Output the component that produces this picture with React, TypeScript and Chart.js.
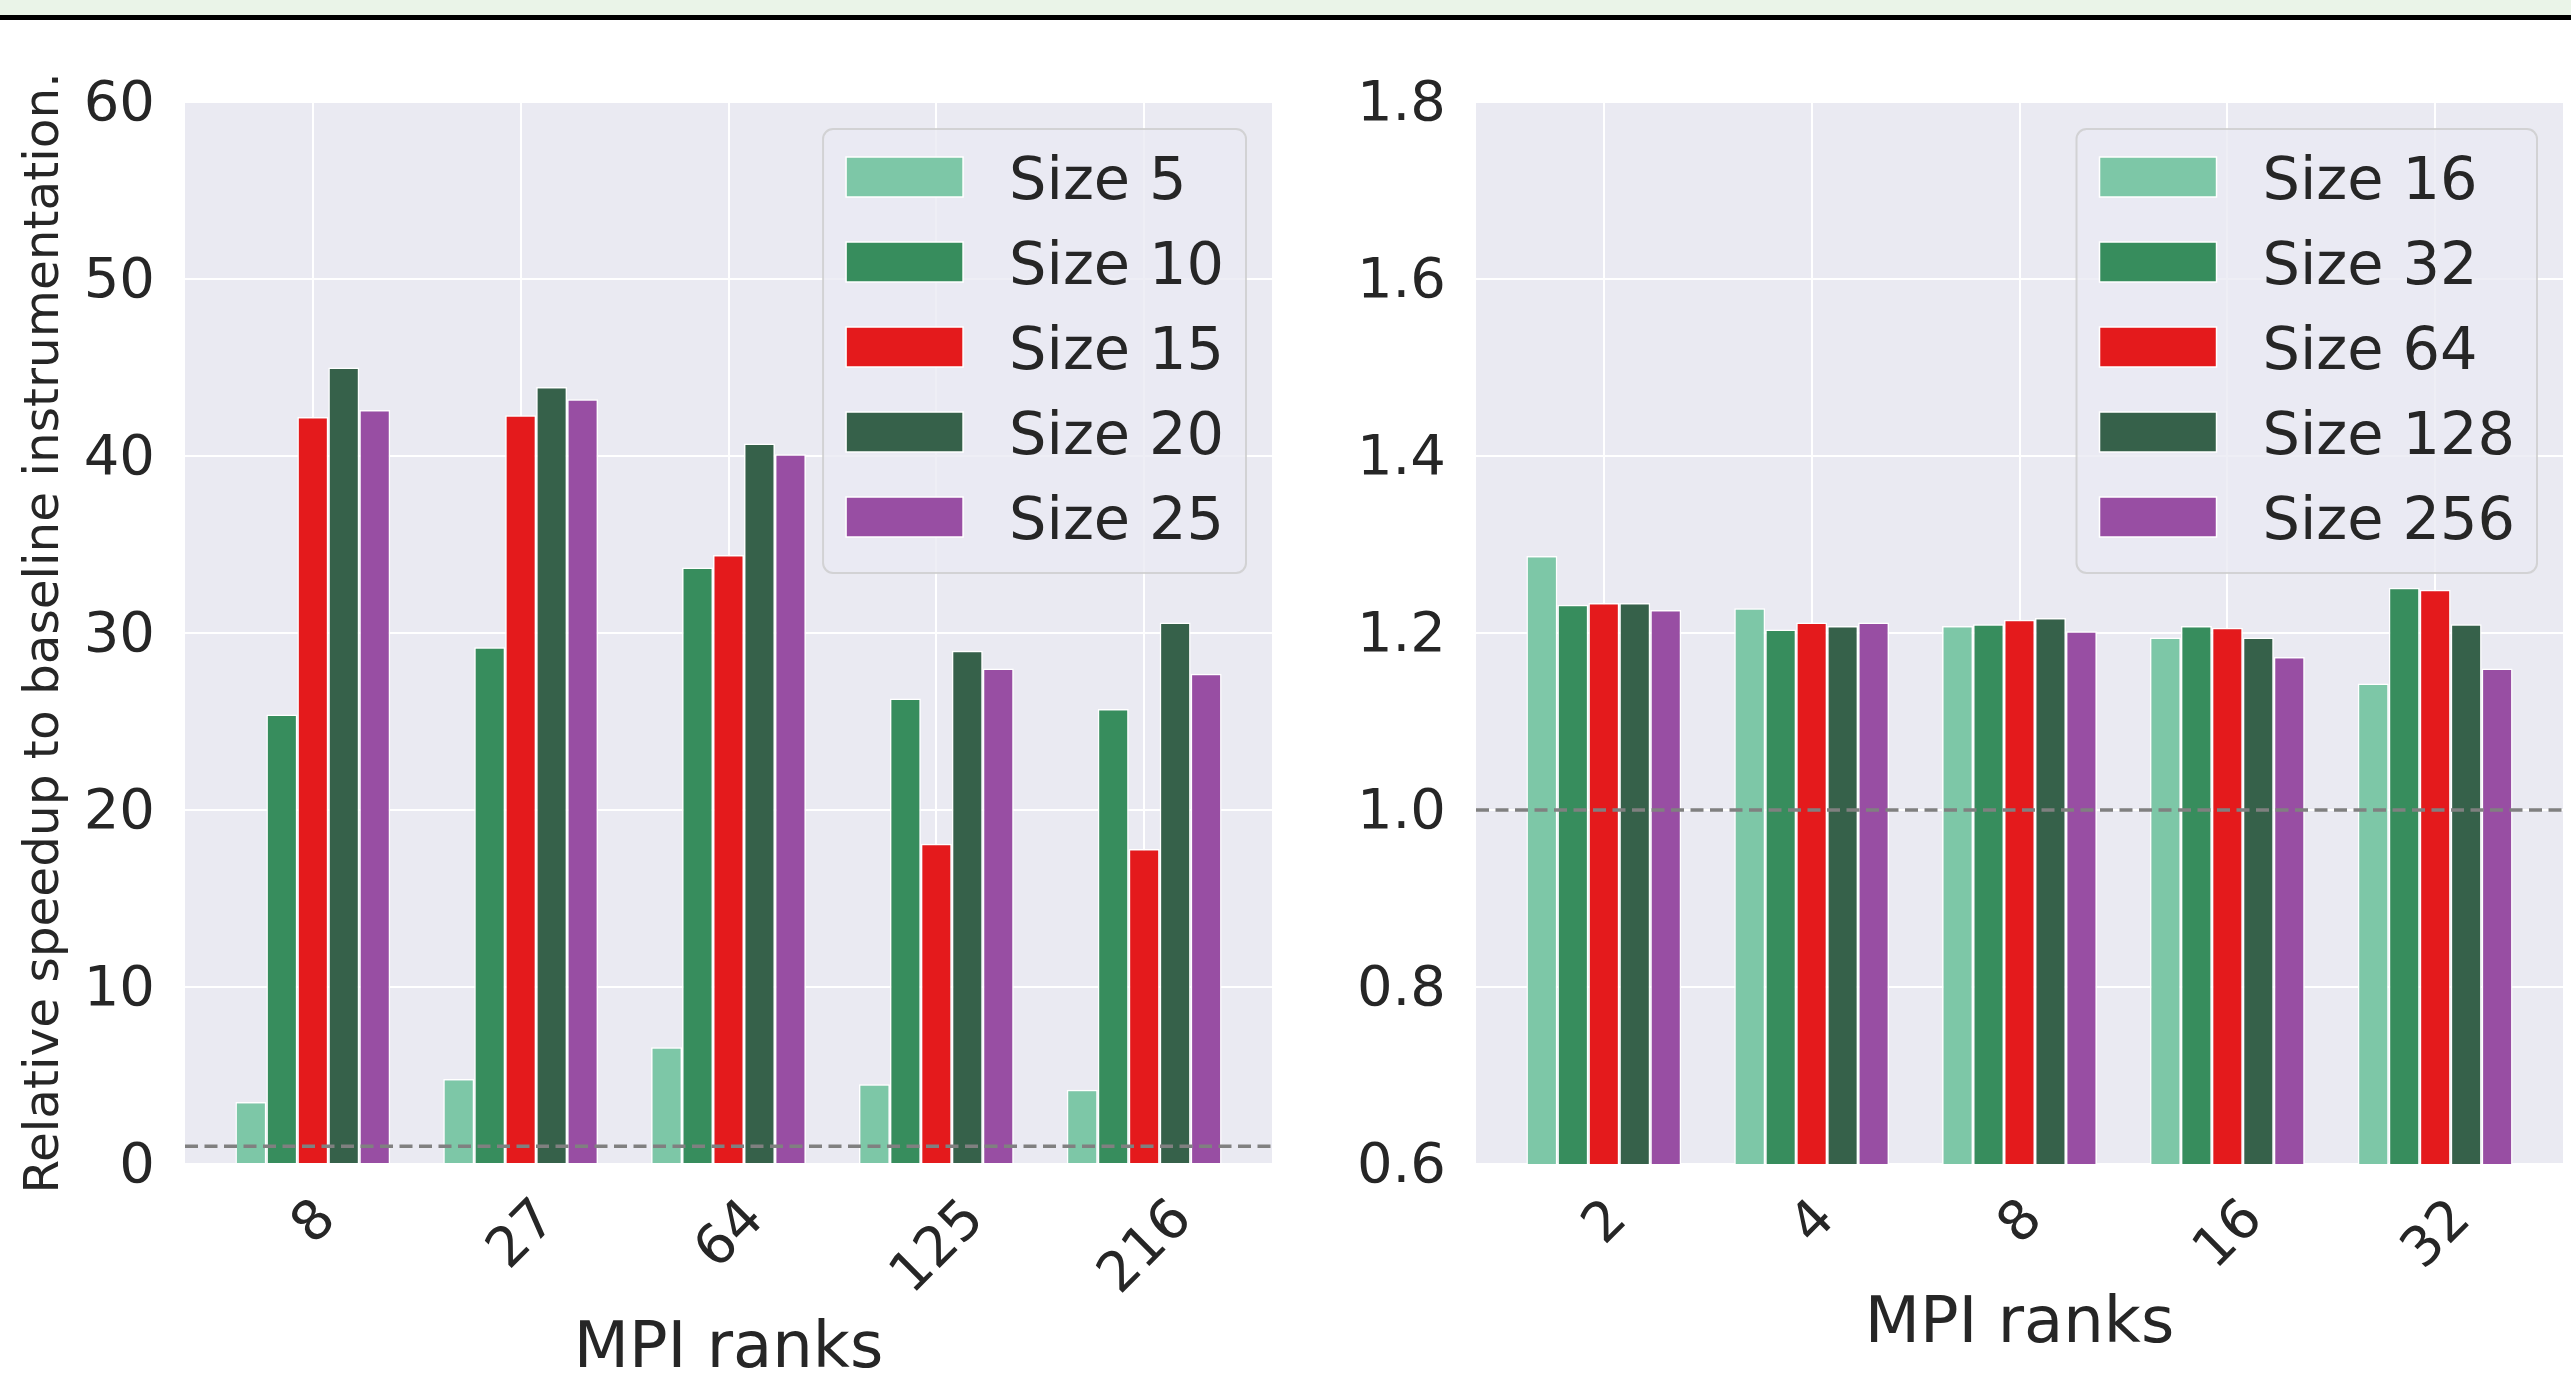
import React, { useEffect, useRef } from 'react';
import { Chart, registerables } from 'chart.js';

Chart.register(...registerables);

// ---------- data ----------
const leftCategories = ['8', '27', '64', '125', '216'];
const leftSeriesLabels = ['Size 5', 'Size 10', 'Size 15', 'Size 20', 'Size 25'];
const leftSize5 = [3.5, 4.8, 6.6, 4.5, 4.2];
const leftSize10 = [25.4, 29.2, 33.7, 26.3, 25.7];
const leftSize15 = [42.2, 42.3, 34.4, 18.1, 17.8];
const leftSize20 = [45.0, 43.9, 40.7, 29.0, 30.6];
const leftSize25 = [42.6, 43.2, 40.1, 28.0, 27.7];
const leftYTicks = [0, 10, 20, 30, 40, 50, 60];

const rightCategories = ['2', '4', '8', '16', '32'];
const rightSeriesLabels = ['Size 16', 'Size 32', 'Size 64', 'Size 128', 'Size 256'];
const rightSize16 = [1.287, 1.228, 1.208, 1.195, 1.143];
const rightSize32 = [1.232, 1.204, 1.210, 1.208, 1.251];
const rightSize64 = [1.234, 1.212, 1.215, 1.206, 1.249];
const rightSize128 = [1.234, 1.208, 1.217, 1.195, 1.210];
const rightSize256 = [1.226, 1.212, 1.202, 1.173, 1.160];
const rightYTicks = [0.6, 0.8, 1.0, 1.2, 1.4, 1.6, 1.8];

const referenceLevel = 1.0;
const xMin = -0.615;
const xMax = 4.615;

const seriesColors = ['#7dc7a7', '#378d5d', '#e41a1c', '#36614a', '#984ea3'];

// ---------- styling ----------
const FONT = 'DejaVu Sans';
const TEXT = '#262626';
const PLOT_BG = '#eaeaf2';

type PanelSpec = {
  left: number;
  width: number;
  height: number;
  yAxisWidth: number;
  padRight: number;
  padTop: number;
  xAxisHeight: number;
  categories: string[];
  seriesLabels: string[];
  series: number[][];
  yTicks: number[];
  yMin: number;
  yMax: number;
  yDecimals: number;
  yTitle: string | null;
  xTitlePadBottom: number;
};

const plotBgPlugin = {
  id: 'plotBg',
  beforeDraw(chart: any) {
    const { ctx, chartArea: a } = chart;
    ctx.save();
    ctx.fillStyle = PLOT_BG;
    ctx.fillRect(a.left, a.top, a.right - a.left, a.bottom - a.top);
    ctx.restore();
  },
};

function makeXLabelPlugin(labels: string[]) {
  return {
    id: 'rotXLabels',
    afterDraw(chart: any) {
      const ctx = chart.ctx;
      const xs = chart.scales.x;
      const size = 55;
      ctx.save();
      ctx.font = `${size}px '${FONT}'`;
      ctx.fillStyle = TEXT;
      ctx.textAlign = 'center';
      ctx.textBaseline = 'middle';
      labels.forEach((lab, i) => {
        const x = xs.getPixelForValue(i);
        const w = ctx.measureText(lab).width;
        const h = size * 1.164;
        const half = ((w + h) * Math.SQRT1_2) / 2;
        const y = chart.chartArea.bottom + 22 + half;
        ctx.save();
        ctx.translate(x, y);
        ctx.rotate(-Math.PI / 4);
        ctx.fillText(lab, 0, size * 0.068);
        ctx.restore();
      });
      ctx.restore();
    },
  };
}

const legendPlugin = {
  id: 'boxLegend',
  afterDraw(chart: any) {
    const ctx = chart.ctx;
    const a = chart.chartArea;
    const items = chart.data.datasets.filter((d: any) => d.type === 'bar');
    const fontSize = 59;
    ctx.save();
    ctx.font = `${fontSize}px '${FONT}'`;
    let maxW = 0;
    items.forEach((d: any) => {
      maxW = Math.max(maxW, ctx.measureText(d.label).width);
    });
    const padL = 23, swW = 117, swH = 40, gap = 46, padR = 22;
    const boxW = padL + swW + gap + maxW + padR;
    const rowH = 85;
    const boxH = 48 + rowH * (items.length - 1) + 56;
    const right = a.right - 26;
    const top = a.top + 27;
    const left = right - boxW;
    ctx.beginPath();
    const r = 10;
    ctx.moveTo(left + r, top);
    ctx.lineTo(right - r, top);
    ctx.arcTo(right, top, right, top + r, r);
    ctx.lineTo(right, top + boxH - r);
    ctx.arcTo(right, top + boxH, right - r, top + boxH, r);
    ctx.lineTo(left + r, top + boxH);
    ctx.arcTo(left, top + boxH, left, top + boxH - r, r);
    ctx.lineTo(left, top + r);
    ctx.arcTo(left, top, left + r, top, r);
    ctx.closePath();
    ctx.fillStyle = 'rgba(234,234,242,0.8)';
    ctx.fill();
    ctx.lineWidth = 2;
    ctx.strokeStyle = 'rgba(204,204,204,0.8)';
    ctx.stroke();
    items.forEach((d: any, i: number) => {
      const cy = top + 48 + i * rowH;
      const sx = left + padL;
      ctx.fillStyle = d.backgroundColor;
      ctx.fillRect(sx, cy - swH / 2, swW, swH);
      ctx.strokeStyle = '#ffffff';
      ctx.lineWidth = 1.5;
      ctx.strokeRect(sx, cy - swH / 2, swW, swH);
      ctx.fillStyle = TEXT;
      ctx.textAlign = 'left';
      ctx.textBaseline = 'alphabetic';
      ctx.fillText(d.label, sx + swW + gap, cy + (0.729 * fontSize) / 2);
    });
    ctx.restore();
  },
};

function buildConfig(spec: PanelSpec): any {
  const barSets = spec.series.map((vals, si) => ({
    type: 'bar',
    label: spec.seriesLabels[si],
    data: vals.map((v, i) => ({ x: i, y: v })),
    backgroundColor: seriesColors[si],
    borderColor: '#ffffff',
    borderWidth: 1.5,
    categoryPercentage: 0.745,
    barPercentage: 1,
    order: 1,
  }));
  const refLine = {
    type: 'line',
    label: 'reference',
    data: [
      { x: xMin, y: referenceLevel },
      { x: xMax, y: referenceLevel },
    ],
    borderColor: '#808080',
    borderWidth: 3.5,
    borderDash: [13, 6.5],
    pointRadius: 0,
    fill: false,
    order: 0,
  };
  return {
    type: 'bar',
    data: { datasets: [...barSets, refLine] },
    options: {
      animation: false,
      responsive: false,
      devicePixelRatio: 1,
      events: [],
      layout: { padding: { top: spec.padTop, right: spec.padRight, bottom: 0, left: 0 } },
      plugins: { legend: { display: false }, tooltip: { enabled: false } },
      scales: {
        x: {
          type: 'linear',
          min: xMin,
          max: xMax,
          offset: false,
          grid: { offset: false, color: '#ffffff', lineWidth: 2, drawTicks: false },
          border: { display: false },
          ticks: { display: false, includeBounds: false },
          afterBuildTicks: (axis: any) => {
            axis.ticks = spec.categories.map((_, i) => ({ value: i }));
          },
          afterFit: (scale: any) => {
            scale.height = spec.xAxisHeight;
          },
          title: {
            display: true,
            text: 'MPI ranks',
            color: TEXT,
            font: { family: FONT, size: 64, lineHeight: 1 },
            padding: { top: 0, bottom: spec.xTitlePadBottom },
          },
        },
        y: {
          type: 'linear',
          min: spec.yMin,
          max: spec.yMax,
          grid: { color: '#ffffff', lineWidth: 2, drawTicks: false },
          border: { display: false },
          afterBuildTicks: (axis: any) => {
            axis.ticks = spec.yTicks.map((v) => ({ value: v }));
          },
          afterFit: (scale: any) => {
            scale.width = spec.yAxisWidth;
          },
          ticks: {
            color: TEXT,
            font: { family: FONT, size: 56 },
            padding: 30,
            labelOffset: 3,
            callback: (v: any) => Number(v).toFixed(spec.yDecimals),
          },
          title: spec.yTitle
            ? {
                display: true,
                text: spec.yTitle,
                color: TEXT,
                font: { family: FONT, size: 48.5, lineHeight: 1 },
                padding: { top: 21.5, bottom: 0 },
              }
            : { display: false },
        },
      },
    },
    plugins: [plotBgPlugin, makeXLabelPlugin(spec.categories), legendPlugin],
  };
}

const leftSpec: PanelSpec = {
  left: 0,
  width: 1300,
  height: 1384,
  yAxisWidth: 185,
  padRight: 28,
  padTop: 102,
  xAxisHeight: 220,
  categories: leftCategories,
  seriesLabels: leftSeriesLabels,
  series: [leftSize5, leftSize10, leftSize15, leftSize20, leftSize25],
  yTicks: leftYTicks,
  yMin: 0,
  yMax: 60,
  yDecimals: 0,
  yTitle: 'Relative speedup to baseline instrumentation.',
  xTitlePadBottom: 2,
};

const rightSpec: PanelSpec = {
  left: 1300,
  width: 1271,
  height: 1384,
  yAxisWidth: 176,
  padRight: 8,
  padTop: 102,
  xAxisHeight: 220,
  categories: rightCategories,
  seriesLabels: rightSeriesLabels,
  series: [rightSize16, rightSize32, rightSize64, rightSize128, rightSize256],
  yTicks: rightYTicks,
  yMin: 0.6,
  yMax: 1.8,
  yDecimals: 1,
  yTitle: null,
  xTitlePadBottom: 27,
};

function Panel({ spec }: { spec: PanelSpec }) {
  const ref = useRef<HTMLCanvasElement | null>(null);
  useEffect(() => {
    if (!ref.current) return;
    const chart = new Chart(ref.current, buildConfig(spec));
    return () => chart.destroy();
  }, [spec]);
  return (
    <canvas
      ref={ref}
      width={spec.width}
      height={spec.height}
      style={{
        position: 'absolute',
        left: spec.left,
        top: 0,
        width: spec.width,
        height: spec.height,
        display: 'block',
      }}
    />
  );
}

export default function App() {
  return (
    <div
      style={{
        position: 'fixed',
        left: 0,
        top: 0,
        width: 2571,
        height: 1384,
        background: '#ffffff',
        overflow: 'hidden',
      }}
    >
      <Panel spec={leftSpec} />
      <Panel spec={rightSpec} />
      <div style={{ position: 'absolute', left: 0, top: 0, width: 2571, height: 15, background: '#eaf4e8' }} />
      <div style={{ position: 'absolute', left: 0, top: 15, width: 2571, height: 5, background: '#000000' }} />
    </div>
  );
}
